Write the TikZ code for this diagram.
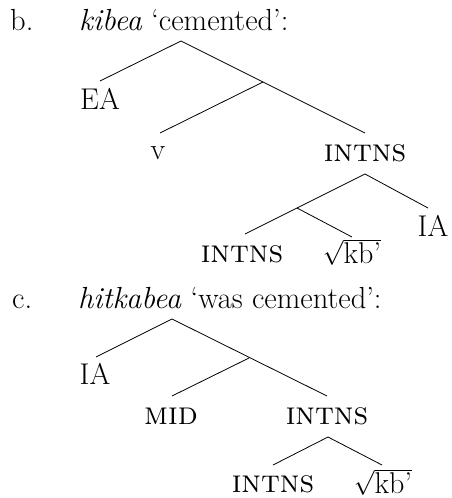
\documentclass[tikz,border=0pt]{standalone}
\begin{document}
\begin{tikzpicture}[x=1pt,y=-1pt,
  lbl/.style={inner sep=0pt,font=\fontsize{30}{34}\selectfont},
  sclbl/.style={inner sep=0pt,font=\fontsize{32}{36}\selectfont\scshape},
  head/.style={inner sep=0pt,anchor=base west,font=\fontsize{30.5}{34}\selectfont},
  br/.style={line width=0.8pt}]
\useasboundingbox (0,0) rectangle (451,498);
% ---- b ----
\node[head] (bl) at (10,30) {b.};
\node[head] (bt) at (79,30) {\textit{kibea} ‘cemented’:};
\coordinate (b0) at (181,41);
\coordinate (bEAt) at (100,81);
\coordinate (b1) at (263,82);
\coordinate (bvt) at (160,133);
\coordinate (bIt) at (365,133);
\node[lbl] (bEA) at (100,99) {EA};
\node[lbl] (bv) at (158,153) {v};
\node[sclbl] (bI) at (365,153) {intns};
\coordinate (b2) at (365,174);
\coordinate (b3) at (297,208);
\coordinate (bIAt) at (428,208);
\coordinate (bI2t) at (245,234);
\coordinate (bkt) at (352,237);
\node[lbl] (bIA) at (433,226) {IA};
\node[sclbl] (bI2) at (242,254) {intns};
\node[lbl] (bk) at (352,252) {$\sqrt{\mbox{kb’}}$};
\draw[br] (bEAt) -- (b0) -- (bIt);
\draw[br] (bvt) -- (b1);
\draw[br] (bI2t) -- (b2) -- (bIAt);
\draw[br] (b3) -- (bkt);
% ---- c ----
\node[head] (cl) at (12,308) {c.};
\node[head] (ct) at (78,308) {\textit{hitkabea} ‘was cemented’:};
\coordinate (c0) at (172,319);
\coordinate (cIAt) at (96,357);
\coordinate (c1) at (249,358);
\coordinate (cMt) at (172,396);
\coordinate (cIt) at (327,396);
\node[lbl] (cIA) at (95,374) {IA};
\node[sclbl] (cM) at (171,416) {mid};
\node[sclbl] (cI) at (327,416) {intns};
\coordinate (c2) at (328,437);
\coordinate (cI2t) at (273,465);
\coordinate (ckt) at (382,465);
\node[sclbl] (cI2) at (273,484) {intns};
\node[lbl] (ck) at (383,482) {$\sqrt{\mbox{kb’}}$};
\draw[br] (cIAt) -- (c0) -- (cIt);
\draw[br] (cMt) -- (c1);
\draw[br] (cI2t) -- (c2) -- (ckt);
\end{tikzpicture}
\end{document}
